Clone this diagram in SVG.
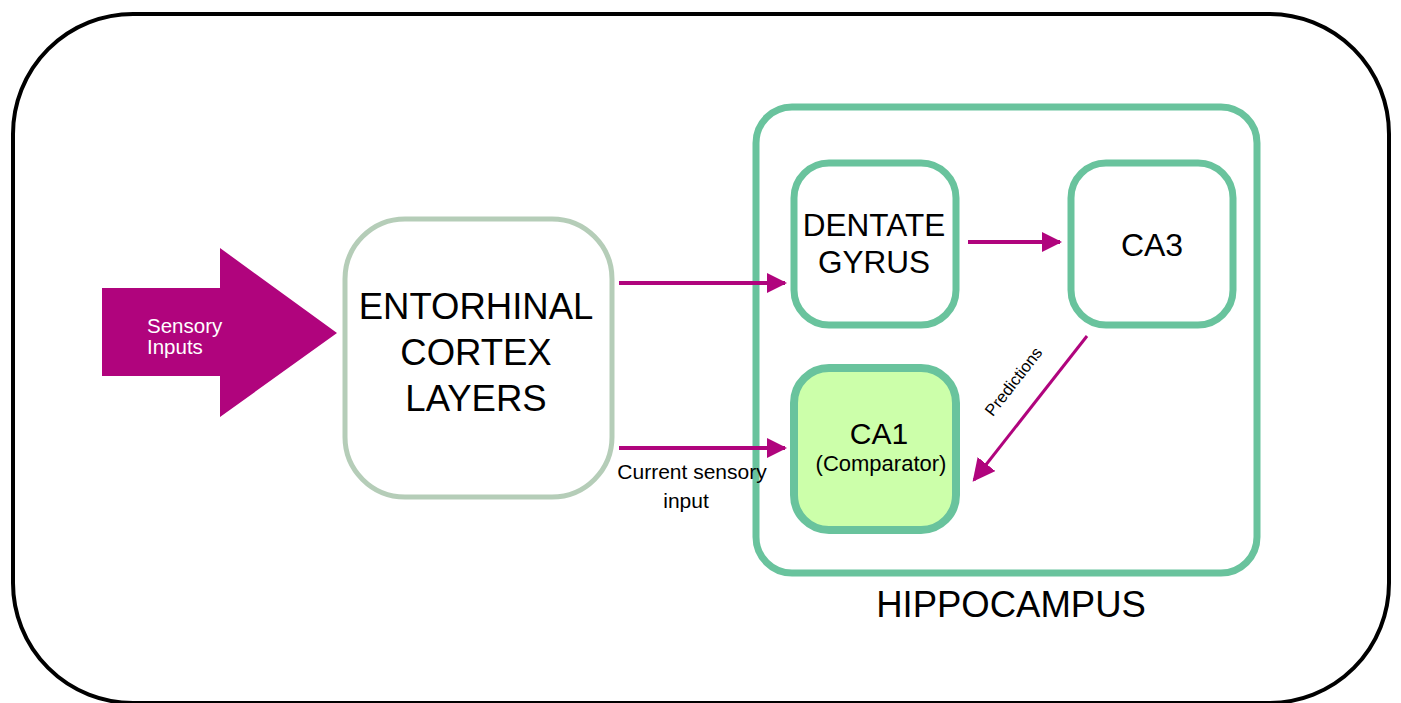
<svg xmlns="http://www.w3.org/2000/svg" width="1401" height="703" viewBox="0 0 1401 703">
  <style>
    text { font-family: "Liberation Sans", Arial, sans-serif; fill: #000; }
    .box { fill: #fff; stroke: #69C39D; stroke-width: 7; }
    .conn { stroke: #B0047D; stroke-width: 4; fill: none; }
  </style>
  <defs>
    <marker id="head" viewBox="0 0 10 10" refX="9" refY="5" markerWidth="5" markerHeight="5" orient="auto" markerUnits="strokeWidth">
      <path d="M0,0 L10,5 L0,10 Z" fill="#B0047D"/>
    </marker>
    <marker id="head-thin" viewBox="0 0 10 10" refX="9" refY="5" markerWidth="7.5" markerHeight="7.5" orient="auto" markerUnits="strokeWidth">
      <path d="M0,0 L10,5 L0,10 Z" fill="#B0047D"/>
    </marker>
  </defs>

  <!-- outer frame -->
  <rect x="13" y="14" width="1376" height="689" rx="120" ry="120" fill="#fff" stroke="#000" stroke-width="4"/>

  <!-- sensory input block arrow -->
  <g id="sensory">
    <polygon points="102,288 220,288 220,248 337,333 220,417 220,376 102,376" fill="#B0047D"/>
    <text x="147" y="333" font-size="20.5" style="fill:#fff">Sensory</text>
    <text x="147" y="354" font-size="20.5" style="fill:#fff">Inputs</text>
  </g>

  <g id="entorhinal">
    <rect x="345" y="219" width="267" height="278" rx="60" ry="60" fill="#fff" stroke="#B5CDB8" stroke-width="5"/>
    <text x="476" y="319" font-size="36.5" text-anchor="middle">ENTORHINAL</text>
    <text x="476" y="365" font-size="36.5" text-anchor="middle">CORTEX</text>
    <text x="476" y="411" font-size="36.5" text-anchor="middle">LAYERS</text>
  </g>

  <g id="hippocampus">
    <rect x="756" y="107" width="501" height="466" rx="36" ry="36" class="box"/>
    <text x="1011" y="617" font-size="36.5" text-anchor="middle">HIPPOCAMPUS</text>
  </g>

  <g id="dentate">
    <rect x="794" y="163" width="162" height="162" rx="35" ry="35" class="box"/>
    <text x="874" y="236" font-size="31.5" text-anchor="middle">DENTATE</text>
    <text x="874" y="273" font-size="31.5" text-anchor="middle">GYRUS</text>
  </g>

  <g id="ca3">
    <rect x="1071" y="163" width="162" height="162" rx="35" ry="35" class="box"/>
    <text x="1152" y="256" font-size="32" text-anchor="middle">CA3</text>
  </g>

  <g id="ca1">
    <rect x="794" y="368" width="162" height="162" rx="35" ry="35" class="box" style="fill:#CCFFAA;stroke-width:8"/>
    <text x="879" y="444" font-size="30" text-anchor="middle">CA1</text>
    <text x="881" y="471" font-size="22" text-anchor="middle">(Comparator)</text>
  </g>

  <g id="connectors">
    <line x1="619" y1="283" x2="785" y2="283" class="conn" marker-end="url(#head)"/>
    <line x1="619" y1="448" x2="785" y2="448" class="conn" marker-end="url(#head)"/>
    <line x1="968" y1="242" x2="1060" y2="242" class="conn" marker-end="url(#head)"/>
    <line x1="1087" y1="336" x2="974" y2="480" class="conn" style="stroke-width:3" marker-end="url(#head-thin)"/>
    <text x="692" y="479" font-size="21" text-anchor="middle">Current sensory</text>
    <text x="686" y="508" font-size="21" text-anchor="middle">input</text>
    <text x="1018" y="385" font-size="16.5" text-anchor="middle" transform="rotate(-52 1018 385)">Predictions</text>
  </g>
</svg>
